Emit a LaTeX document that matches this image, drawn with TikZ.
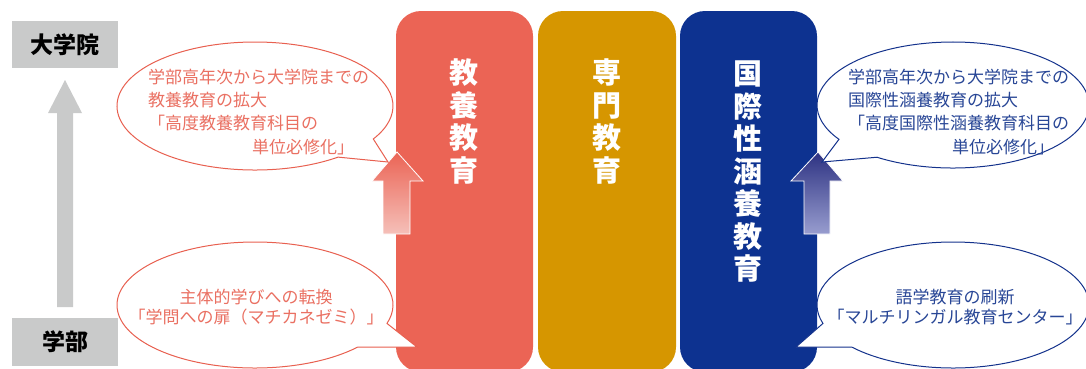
\documentclass[tikz,border=0pt]{standalone}
\usepackage{fontspec}
\setmainfont{Noto Sans CJK JP}
\definecolor{colred}{RGB}{235,100,85}
\definecolor{colorange}{RGB}{214,150,0}
\definecolor{colblue}{RGB}{13,50,144}
\definecolor{colgray}{RGB}{201,202,202}
\definecolor{redtext}{RGB}{234,112,98}
\definecolor{redline}{RGB}{232,96,80}
\definecolor{bluetext}{RGB}{40,70,150}
\definecolor{blueline}{RGB}{20,50,140}
\definecolor{redpale}{RGB}{245,192,185}
\definecolor{bluetop}{RGB}{45,50,130}
\definecolor{bluepale}{RGB}{152,157,207}
\begin{document}
\begin{tikzpicture}[x=1pt,y=-1pt,
  colbox/.style={rounded corners=25pt},
  coltext/.style={text=white, font=\fontsize{29}{32.5}\selectfont\bfseries, align=center, inner sep=0pt},
  levelbox/.style={fill=colgray, minimum width=106pt, inner sep=0pt, font=\fontsize{23}{23}\selectfont\bfseries},
  redbubble/.style={draw=redline, fill=white, line width=1pt},
  bluebubble/.style={draw=blueline, fill=white, line width=1pt},
  redtxt/.style={text=redtext, font=\fontsize{17}{23}\selectfont, inner sep=0pt},
  bluetxt/.style={text=bluetext, font=\fontsize{17}{23}\selectfont, inner sep=0pt},
  blockarrow/.style={draw=white, line width=0.8pt}
]
\useasboundingbox (0,0) rectangle (1086,368);
\clip (0,0) rectangle (1086,368);

% level labels
\node[levelbox, minimum height=47pt] (grad) at (65,44.5) {大学院};
\node[levelbox, minimum height=48pt] (under) at (65,342) {学部};
\fill[colgray] (57,307) -- (57,113) -- (48,113) -- (65,80) -- (82,113) -- (73,113) -- (73,307) -- cycle;

% columns
\fill[colred, colbox] (396,11) rectangle (533,372);
\fill[colorange, colbox] (538,11) rectangle (676,372);
\fill[colblue, colbox] (680,11) rectangle (817,372);
\node[coltext] (c1) at (464,121.5) {教\\養\\教\\育};
\node[coltext] (c2) at (607,121.5) {専\\門\\教\\育};
\node[coltext] (c3) at (748,172) {国\\際\\性\\涵\\養\\教\\育};

% block arrows
\path[blockarrow, top color=colred, bottom color=redpale]
  (397,152) -- (423,181) -- (410,181) -- (410,234) -- (383,234) -- (383,181) -- (372,181) -- cycle;
\path[blockarrow, top color=bluetop, bottom color=bluepale]
  (818,152) -- (843,181) -- (830,181) -- (830,234) -- (804,234) -- (804,181) -- (791,181) -- cycle;

% bubbles
\draw[redbubble] (255,106) ++(53:138 and 64) arc[start angle=53, end angle=391, x radius=138, y radius=64] -- (388,162) -- cycle;
\draw[redbubble] (255,305) ++(42:138 and 63) arc[start angle=42, end angle=377, x radius=138, y radius=63] -- (417,347) -- cycle;
\draw[bluebubble] (953,105) ++(124:136 and 63) arc[start angle=124, end angle=-213, x radius=136, y radius=63] -- (822,162) -- cycle;
\draw[bluebubble] (953,305) ++(138:136 and 63) arc[start angle=138, end angle=-197, x radius=136, y radius=63] -- (796,347) -- cycle;

% bubble texts
\node[redtxt, anchor=base west] (r1) at (148,83.5) {学部高年次から大学院までの};
\node[redtxt, anchor=base west] (r2) at (148,106.5) {教養教育の拡大};
\node[redtxt, anchor=base west] (r3) at (148,129.5) {「高度教養教育科目の};
\node[redtxt, anchor=base west] (r4) at (252,153) {単位必修化」};
\node[redtxt, anchor=base] (r5) at (256,303.5) {主体的学びへの転換};
\node[redtxt, anchor=base] (r6) at (256,323.5) {「学問への扉（マチカネゼミ）」};

\node[bluetxt, anchor=base west] (b1) at (848,83.5) {学部高年次から大学院までの};
\node[bluetxt, anchor=base west] (b2) at (848,106.5) {国際性涵養教育の拡大};
\node[bluetxt, anchor=base west] (b3) at (848,129.5) {「高度国際性涵養教育科目の};
\node[bluetxt, anchor=base west] (b4) at (952,153) {単位必修化」};
\node[bluetxt, anchor=base] (b5) at (955,303.5) {語学教育の刷新};
\node[bluetxt, anchor=base] (b6) at (955,323.5) {「マルチリンガル教育センター」};
\end{tikzpicture}
\end{document}
